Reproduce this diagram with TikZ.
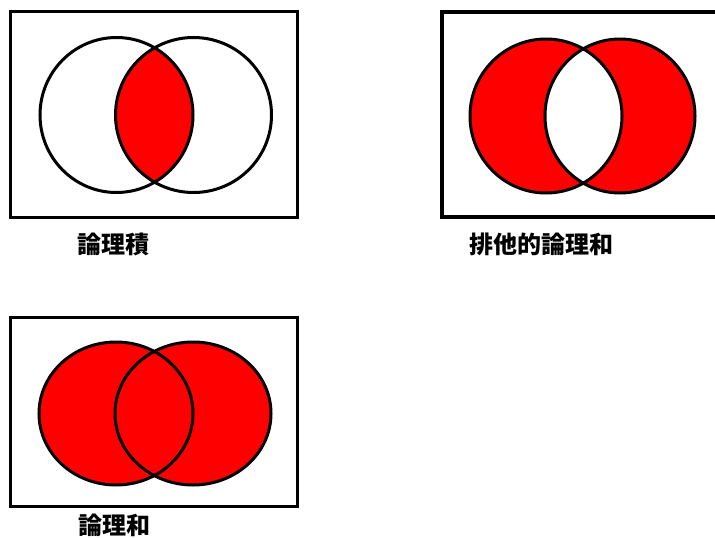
\documentclass[tikz,border=0pt]{standalone}
\usepackage{fontspec}
\newfontfamily\cjk{Noto Sans CJK JP}
\begin{document}
\begin{tikzpicture}[x=1pt,y=-1pt,line width=3pt,
  frame/.style={draw=black,line width=3pt},
  ring/.style={draw=black,line width=3pt},
  lbl/.style={font=\cjk\bfseries\fontsize{24}{28}\selectfont,inner sep=0pt}]
\useasboundingbox[fill=white] (0,0) rectangle (715,538);
% Panel 1: AND
\draw[frame] (10.5,11) rectangle (297,217.5);
\begin{scope}
  \clip (116.5,115) ellipse (76.5 and 77.5);
  \fill[red] (193.5,115) ellipse (78 and 77.5);
\end{scope}
\draw[ring] (116.5,115) ellipse (76.5 and 77.5);
\draw[ring] (193.5,115) ellipse (78 and 77.5);
\node[lbl] (and) at (113,244) {論理積};
% Panel 2: XOR
\draw[line width=4.5pt] (720,12) -- (442,12) -- (442,217) -- (720,217);
\fill[red,even odd rule] (546,116) ellipse (76 and 77) (620,116) ellipse (75 and 77);
\draw[ring] (546,116) ellipse (76 and 77);
\draw[ring] (620,116) ellipse (75 and 77);
\node[lbl] (xor) at (541,244) {排他的論理和};
% Panel 3: OR
\draw[frame] (10.5,317) rectangle (297.5,506.5);
\fill[red] (116,413.5) ellipse (77 and 71.5);
\fill[red] (193,413.5) ellipse (78 and 71.5);
\draw[ring] (116,413.5) ellipse (77 and 71.5);
\draw[ring] (193,413.5) ellipse (78 and 71.5);
\node[lbl] (or) at (114,525) {論理和};
\end{tikzpicture}
\end{document}
